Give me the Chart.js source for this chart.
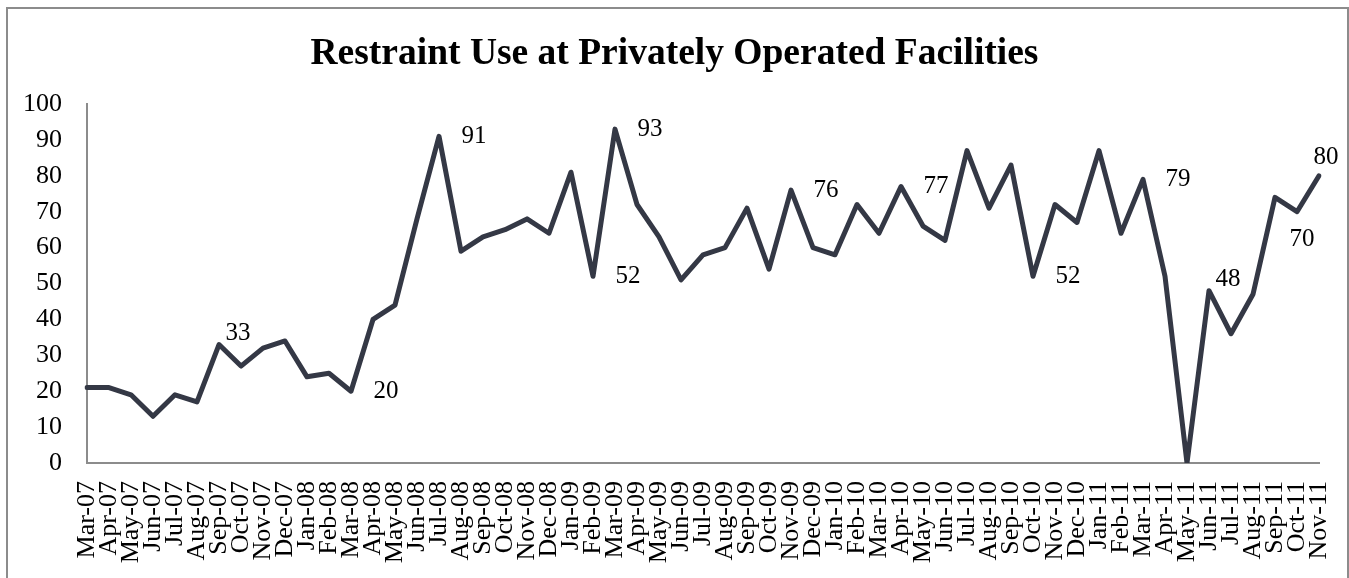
<!DOCTYPE html>
<html lang="en">
<head>
    <meta charset="UTF-8">
    <title>Restraint Use at Privately Operated Facilities</title>
    <style>
        body {
            margin: 0;
            background: #ffffff;
            overflow: hidden;
        }
        #wrap {
            position: relative;
            width: 1349px;
            height: 578px;
        }
        #frame {
            position: absolute;
            left: 6px;
            top: 7px;
            width: 1339px;
            height: 600px;
            border: 2px solid #8c8c8c;
            pointer-events: none;
        }
        canvas {
            position: absolute;
            left: 0;
            top: 0;
        }
    </style>
</head>
<body>
    <div id="wrap">
        <canvas id="restraintChart" width="1349" height="578"></canvas>
        <div id="frame"></div>
    </div>

    <script src="https://cdn.jsdelivr.net/npm/chart.js"></script>
    <script>
        const months = [
            "Mar-07", "Apr-07", "May-07", "Jun-07", "Jul-07", "Aug-07", "Sep-07", "Oct-07", "Nov-07", "Dec-07",
            "Jan-08", "Feb-08", "Mar-08", "Apr-08", "May-08", "Jun-08", "Jul-08", "Aug-08", "Sep-08", "Oct-08",
            "Nov-08", "Dec-08", "Jan-09", "Feb-09", "Mar-09", "Apr-09", "May-09", "Jun-09", "Jul-09", "Aug-09",
            "Sep-09", "Oct-09", "Nov-09", "Dec-09", "Jan-10", "Feb-10", "Mar-10", "Apr-10", "May-10", "Jun-10",
            "Jul-10", "Aug-10", "Sep-10", "Oct-10", "Nov-10", "Dec-10", "Jan-11", "Feb-11", "Mar-11", "Apr-11",
            "May-11", "Jun-11", "Jul-11", "Aug-11", "Sep-11", "Oct-11", "Nov-11"
        ];

        const restraintUse = [
            21, 21, 19, 13, 19, 17, 33, 27, 32, 34,
            24, 25, 20, 40, 44, 68, 91, 59, 63, 65,
            68, 64, 81, 52, 93, 72, 63, 51, 58, 60,
            71, 54, 76, 60, 58, 72, 64, 77, 66, 62,
            87, 71, 83, 52, 72, 67, 87, 64, 79, 52,
            0, 48, 36, 47, 74, 70, 80
        ];

        const yTicks = [0, 10, 20, 30, 40, 50, 60, 70, 80, 90, 100];

        // points that carry a value label, and where the label sits
        const labelledPoints = [6, 12, 16, 23, 24, 32, 37, 43, 48, 51, 55, 56];
        const labelPlaces = ["upRight", "right", "right", "right", "right", "right", "right", "right", "right", "upRight", "below", "above"];

        const serif = "'Liberation Serif', 'Times New Roman', serif";

        // label centre offsets from the point, in pixels
        const placeOffsets = {
            right: [35, 0],
            above: [7, -18],
            below: [5, 28],
            upRight: [19, -11]
        };

        const pointLabels = {
            id: "pointLabels",
            afterDatasetsDraw(chart) {
                const ctx = chart.ctx;
                const meta = chart.getDatasetMeta(0);
                ctx.save();
                ctx.font = "25px " + serif;
                ctx.fillStyle = "#000000";
                ctx.textAlign = "center";
                ctx.textBaseline = "middle";
                labelledPoints.forEach(function (idx, k) {
                    const pt = meta.data[idx];
                    const off = placeOffsets[labelPlaces[k]];
                    ctx.fillText(String(restraintUse[idx]), pt.x + off[0], pt.y + off[1]);
                });
                ctx.restore();
            }
        };

        const ctx = document.getElementById("restraintChart").getContext("2d");
        new Chart(ctx, {
            type: "line",
            data: {
                labels: months,
                datasets: [{
                    label: "Restraint use",
                    data: restraintUse,
                    borderColor: "#343845",
                    borderWidth: 5,
                    borderJoinStyle: "round",
                    borderCapStyle: "round",
                    pointRadius: 0,
                    tension: 0,
                    fill: false
                }]
            },
            options: {
                responsive: false,
                animation: false,
                layout: {
                    padding: 0
                },
                plugins: {
                    legend: { display: false },
                    tooltip: { enabled: false },
                    title: {
                        display: true,
                        text: "Restraint Use at Privately Operated Facilities",
                        color: "#000000",
                        font: { family: serif, size: 37.5, weight: "bold", lineHeight: 1.2 },
                        padding: { top: 32, bottom: 27 }
                    }
                },
                scales: {
                    x: {
                        offset: false,
                        grid: { display: false, drawTicks: false },
                        border: { display: true, color: "#8c8c8c", width: 2 },
                        ticks: {
                            autoSkip: false,
                            minRotation: 90,
                            maxRotation: 90,
                            padding: 18,
                            color: "#000000",
                            font: { family: serif, size: 26 }
                        },
                        afterFit(scale) {
                            scale.height = 115;
                            scale.paddingLeft = 0;
                            scale.paddingRight = 30;
                        }
                    },
                    y: {
                        min: 0,
                        max: 100,
                        afterBuildTicks(scale) {
                            scale.ticks = yTicks.map(function (v) { return { value: v }; });
                        },
                        grid: { display: false, drawTicks: false },
                        border: { display: true, color: "#8c8c8c", width: 2 },
                        ticks: {
                            padding: 25,
                            color: "#000000",
                            font: { family: serif, size: 26 }
                        },
                        afterFit(scale) { scale.width = 87; }
                    }
                }
            },
            plugins: [pointLabels]
        });
    </script>
</body>
</html>
